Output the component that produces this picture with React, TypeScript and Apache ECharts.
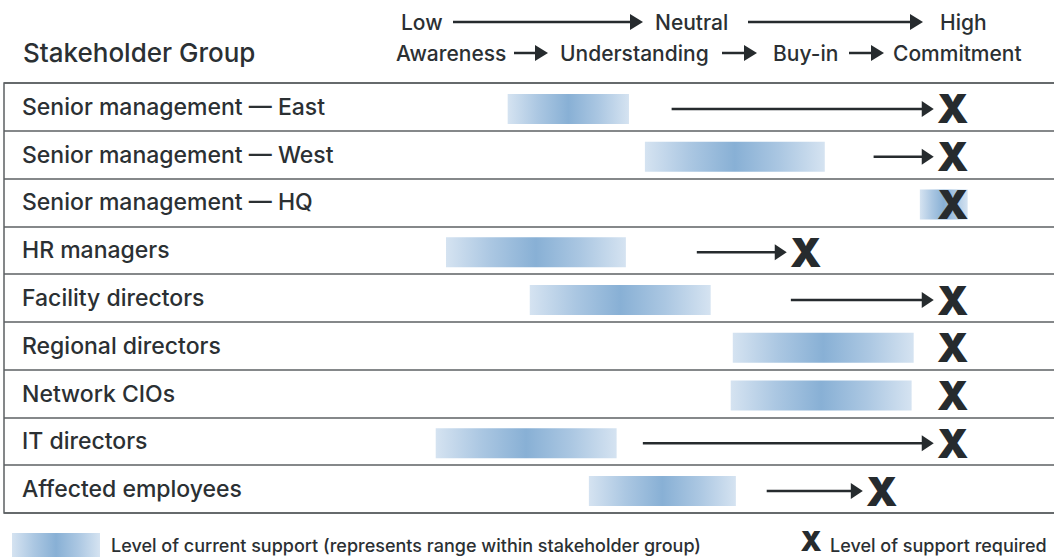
import React, { useEffect, useRef } from "react";
import * as echarts from "echarts";

const groups = [
  "Senior management — East",
  "Senior management — West",
  "Senior management — HQ",
  "HR managers",
  "Facility directors",
  "Regional directors",
  "Network CIOs",
  "IT directors",
  "Affected employees",
];
// support scale: 0 = low / awareness, 100 = high / commitment
const currentLow = [13.4, 40.1, 93.6, 1.4, 17.7, 57.2, 56.8, -0.6, 29.2];
const currentHigh = [37.0, 75.1, 102.9, 36.4, 52.9, 92.4, 92.0, 34.6, 57.8];
const shiftFrom: (number | null)[] = [45.3, 84.6, null, 50.2, 68.5, null, null, 39.7, 63.8];
const required = [100, 100, 100, 71.4, 100, 100, 100, 100, 86.2];

const scaleLevels = ["Low", "Neutral", "High"];
const scaleStages = ["Awareness", "Understanding", "Buy-in", "Commitment"];
const headerTitle = "Stakeholder Group";
const legendRange = "Level of current support (represents range within stakeholder group)";
const legendRequired = "Level of support required";

const INK = "#262b2e";
const TEXT = "#2b3033";
const LINE = "#5c6063";
const FONT = "Inter, 'Noto Sans', sans-serif";

const barGradient = () =>
  new echarts.graphic.LinearGradient(0, 0, 1, 0, [
    { offset: 0, color: "#d5e3f1" },
    { offset: 0.25, color: "#abc7e2" },
    { offset: 0.5, color: "#88b0d5" },
    { offset: 0.75, color: "#abc7e2" },
    { offset: 1, color: "#d5e3f1" },
  ]);

const hArrow = (x1: number, x2: number, y: number) => [
  { type: "line", shape: { x1, y1: y, x2: x2 - 10, y2: y }, style: { stroke: INK, lineWidth: 2.5 } },
  { type: "polygon", shape: { points: [[x2 - 13, y - 8], [x2, y], [x2 - 13, y + 8]] }, style: { fill: INK } },
];

const hText = (text: string, x: number, y: number, size: number, weight: number | string = 500) => ({
  type: "text",
  style: {
    text,
    x,
    y,
    fill: TEXT,
    fontSize: size,
    fontFamily: FONT,
    fontWeight: weight,
    align: "left",
    verticalAlign: "middle",
    textAlign: "left",
    textVerticalAlign: "middle",
  },
});

export default function App() {
  const ref = useRef<HTMLDivElement>(null);
  useEffect(() => {
    if (!ref.current) return;
    const chart = echarts.init(ref.current, undefined, { renderer: "svg" });

    const barData = groups.map((_, i) => [currentLow[i], currentHigh[i], i]);
    const arrowData: number[][] = [];
    shiftFrom.forEach((s, i) => {
      if (s !== null) arrowData.push([s, required[i], i]);
    });
    const reqData = groups.map((_, i) => [required[i], i]);

    const r1 = 22;
    const r2 = 53;
    const graphic: any[] = [
      hText(headerTitle, 23, 52, 26),
      hText(scaleLevels[0], 401, r1, 21),
      ...hArrow(453, 643, r1),
      hText(scaleLevels[1], 655, r1, 21),
      ...hArrow(748, 923, r1),
      hText(scaleLevels[2], 940, r1, 21),
      hText(scaleStages[0], 396, r2, 21),
      ...hArrow(514, 548, r2),
      hText(scaleStages[1], 560, r2, 21),
      ...hArrow(722, 757, r2),
      hText(scaleStages[2], 773, r2, 21),
      ...hArrow(849, 884, r2),
      hText(scaleStages[3], 893, r2, 21),
      {
        type: "rect",
        shape: { x: 4, y: 83, width: 1070, height: 430 },
        style: { fill: "none", stroke: LINE, lineWidth: 1.5 },
        z: 10,
      },
      {
        type: "rect",
        shape: { x: 12, y: 533, width: 88, height: 24 },
        style: { fill: barGradient() },
      },
      hText(legendRange, 111, 545, 18),
      {
        type: "text",
        style: {
          text: "X",
          x: 811,
          y: 541,
          fill: INK,
          fontSize: 27,
          fontFamily: FONT,
          fontWeight: 900,
          align: "center",
          verticalAlign: "middle",
          textAlign: "center",
          textVerticalAlign: "middle",
        },
      },
      hText(legendRequired, 830, 545, 18),
    ];

    chart.setOption({
      animation: false,
      grid: {
        left: 4,
        right: 0,
        top: 83,
        height: 430,
        show: false,
      },
      xAxis: {
        type: "value",
        min: -84.6,
        max: 119.7,
        show: false,
      },
      yAxis: {
        type: "category",
        data: groups,
        inverse: true,
        axisLine: { show: false },
        axisTick: { show: false },
        splitLine: { show: true, lineStyle: { color: LINE, width: 1.5 } },
        axisLabel: {
          inside: true,
          margin: 18,
          align: "left",
          color: TEXT,
          fontSize: 23,
          fontWeight: 500,
          fontFamily: FONT,
          padding: [1, 0, 0, 0],
        },
      },
      graphic,
      series: [
        {
          type: "custom",
          name: "current",
          data: barData,
          encode: { x: [0, 1], y: 2 },
          z: 2,
          renderItem: (params: any, api: any) => {
            const c = api.value(2);
            const p0 = api.coord([api.value(0), c]);
            const p1 = api.coord([api.value(1), c]);
            const h = 30;
            return {
              type: "rect",
              shape: { x: p0[0], y: p0[1] - h / 2 + 2, width: p1[0] - p0[0], height: h },
              style: { fill: barGradient() },
            };
          },
        },
        {
          type: "custom",
          name: "shift",
          data: arrowData,
          encode: { x: [0, 1], y: 2 },
          z: 3,
          renderItem: (params: any, api: any) => {
            const c = api.value(2);
            const p0 = api.coord([api.value(0), c]);
            const p1 = api.coord([api.value(1), c]);
            const y = p0[1] + 2;
            const tip = p1[0] - 19;
            return {
              type: "group",
              children: [
                { type: "line", shape: { x1: p0[0], y1: y, x2: tip - 10, y2: y }, style: { stroke: INK, lineWidth: 2.5 } },
                {
                  type: "polygon",
                  shape: { points: [[tip - 12, y - 8], [tip, y], [tip - 12, y + 8]] },
                  style: { fill: INK },
                },
              ],
            };
          },
        },
        {
          type: "custom",
          name: "required",
          data: reqData,
          encode: { x: 0, y: 1 },
          z: 4,
          renderItem: (params: any, api: any) => {
            const p = api.coord([api.value(0), api.value(1)]);
            return {
              type: "text",
              style: {
                text: "X",
                x: p[0],
                y: p[1] + 2,
                fill: INK,
                fontSize: 40,
                fontFamily: FONT,
                fontWeight: 900,
                align: "center",
                verticalAlign: "middle",
                textAlign: "center",
                textVerticalAlign: "middle",
              },
            };
          },
        },
      ],
    });
    return () => chart.dispose();
  }, []);
  return <div ref={ref} style={{ width: 1054, height: 558, position: "absolute", left: 0, top: 0, background: "#fff" }} />;
}
